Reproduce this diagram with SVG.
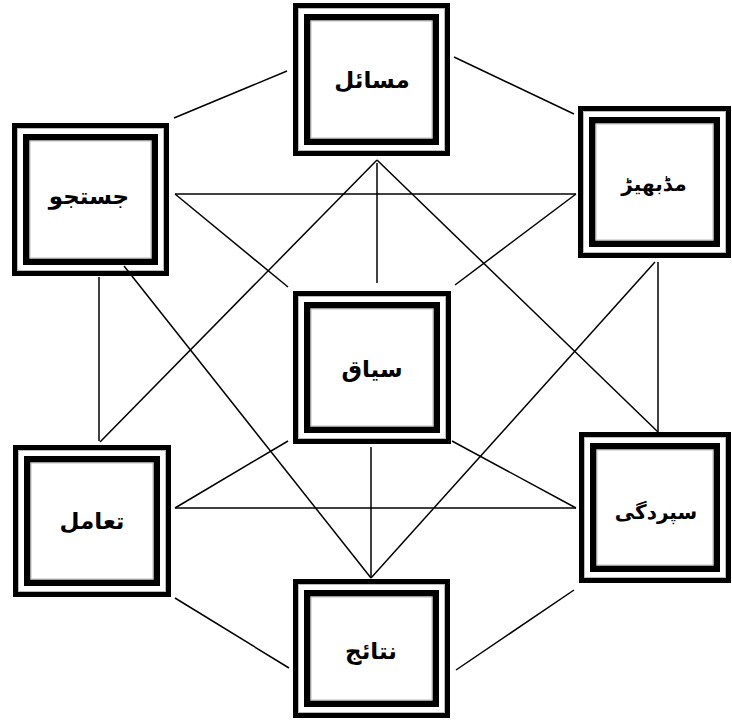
<svg xmlns="http://www.w3.org/2000/svg" width="732" height="722" viewBox="0 0 732 722">
<style>
.o{fill:#fff;stroke:#000;stroke-width:5}
.i{fill:none;stroke:#000;stroke-width:6.5}
.g{fill:none;stroke:#bbb;stroke-width:1}
.t{font-family:"DejaVu Sans",sans-serif;font-weight:bold;font-size:23px;text-anchor:middle;dominant-baseline:central;fill:#000}
.s{font-size:20px}
#connectors line{stroke:#000;stroke-width:1.5;stroke-linecap:butt}
</style>
<rect width="732" height="722" fill="#fff"/>
<g id="masail">
<rect class="o" x="295.5" y="5.5" width="152" height="148"/>
<rect class="g" x="298.5" y="8.5" width="146" height="142"/>
<rect class="i" x="307.25" y="17.25" width="128.5" height="124.5"/>
<rect class="g" x="311" y="21" width="121" height="117"/>
<text class="t" x="372" y="80">مسائل</text>
</g>
<g id="justuju">
<rect class="o" x="14.5" y="125.5" width="152" height="148"/>
<rect class="g" x="17.5" y="128.5" width="146" height="142"/>
<rect class="i" x="26.25" y="137.25" width="128.5" height="124.5"/>
<rect class="g" x="30" y="141" width="121" height="117"/>
<text class="t" x="89" y="196">جستجو</text>
</g>
<g id="mudbheer">
<rect class="o" x="580.5" y="108.5" width="148" height="147"/>
<rect class="g" x="583.5" y="111.5" width="142" height="141"/>
<rect class="i" x="592.25" y="120.25" width="124.5" height="123.5"/>
<rect class="g" x="596" y="124" width="117" height="116"/>
<text class="t s" x="654" y="184">مڈبھیڑ</text>
</g>
<g id="siyaq">
<rect class="o" x="295.5" y="293.5" width="153" height="148"/>
<rect class="g" x="298.5" y="296.5" width="147" height="142"/>
<rect class="i" x="307.25" y="305.25" width="129.5" height="124.5"/>
<rect class="g" x="311" y="309" width="122" height="117"/>
<text class="t" x="372" y="369">سیاق</text>
</g>
<g id="taamul">
<rect class="o" x="15.5" y="447.5" width="153" height="147"/>
<rect class="g" x="18.5" y="450.5" width="147" height="141"/>
<rect class="i" x="27.25" y="459.25" width="129.5" height="123.5"/>
<rect class="g" x="31" y="463" width="122" height="116"/>
<text class="t" x="92" y="521">تعامل</text>
</g>
<g id="supurdagi">
<rect class="o" x="581.5" y="434.5" width="147" height="146"/>
<rect class="g" x="584.5" y="437.5" width="141" height="140"/>
<rect class="i" x="593.25" y="446.25" width="123.5" height="122.5"/>
<rect class="g" x="597" y="450" width="116" height="115"/>
<text class="t s" x="656" y="512">سپردگی</text>
</g>
<g id="nataij">
<rect class="o" x="295.5" y="581.5" width="152" height="134"/>
<rect class="g" x="298.5" y="584.5" width="146" height="128"/>
<rect class="i" x="307.25" y="593.25" width="128.5" height="110.5"/>
<rect class="g" x="311" y="597" width="121" height="103"/>
<text class="t" x="371" y="651">نتائج</text>
</g>
<g id="connectors">
<line x1="287" y1="71" x2="174" y2="118"/>
<line x1="454" y1="57" x2="574" y2="114"/>
<line x1="99" y1="277" x2="99" y2="441"/>
<line x1="658" y1="262" x2="658" y2="432"/>
<line x1="175" y1="598" x2="289" y2="668"/>
<line x1="574" y1="590" x2="456" y2="670"/>
<line x1="377" y1="163" x2="377" y2="283"/>
<line x1="371" y1="447" x2="371" y2="578"/>
<line x1="175" y1="194" x2="576" y2="194"/>
<line x1="175" y1="508" x2="576" y2="508"/>
<line x1="175" y1="194" x2="288" y2="287"/>
<line x1="576" y1="194" x2="455" y2="285"/>
<line x1="175" y1="508" x2="288" y2="441"/>
<line x1="576" y1="508" x2="452" y2="441"/>
<line x1="377" y1="160" x2="100" y2="442"/>
<line x1="377" y1="160" x2="658" y2="432"/>
<line x1="124" y1="266" x2="371" y2="578"/>
<line x1="655" y1="262" x2="371" y2="578"/>
</g>
</svg>
